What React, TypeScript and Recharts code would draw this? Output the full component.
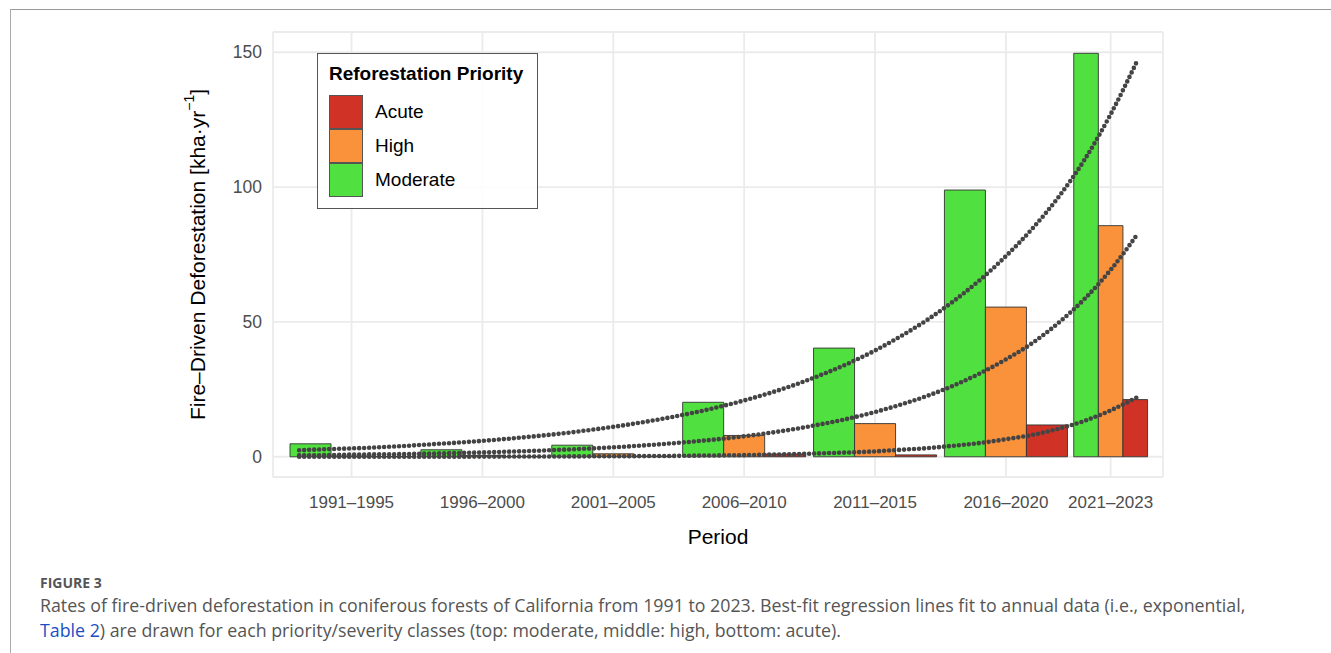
import { ComposedChart, Line, XAxis, YAxis, CartesianGrid, ReferenceArea } from 'recharts';

// Periods shown on the x axis (years, inclusive)
const periodLabels = ['1991–1995', '1996–2000', '2001–2005', '2006–2010', '2011–2015', '2016–2020', '2021–2023'];
const periodStart = [1991, 1996, 2001, 2006, 2011, 2016, 2021];
const periodEnd = [1995, 2000, 2005, 2010, 2015, 2020, 2023];

// Mean annual fire-driven deforestation per period [kha/yr]
const moderateBars = [4.8, 2.6, 4.3, 20.2, 40.3, 98.9, 149.6];
const highBars = [0.3, 0.5, 1.1, 7.9, 12.3, 55.5, 85.7];
const acuteBars = [0.1, 0.1, 0.2, 1.0, 0.7, 11.8, 21.2];

// Exponential best fit to the annual data, one value per year
const years = [
  1991, 1992, 1993, 1994, 1995, 1996, 1997, 1998, 1999, 2000, 2001,
  2002, 2003, 2004, 2005, 2006, 2007, 2008, 2009, 2010, 2011, 2012,
  2013, 2014, 2015, 2016, 2017, 2018, 2019, 2020, 2021, 2022, 2023,
];
const moderateFit = [
  2.4, 2.8, 3.1, 3.5, 4.0, 4.6, 5.2, 5.9, 6.7, 7.6, 8.6,
  9.8, 11.1, 12.6, 14.3, 16.2, 18.4, 20.9, 23.7, 26.9, 30.6, 34.7,
  39.4, 44.8, 50.8, 57.7, 65.5, 74.4, 84.5, 96.2, 110.1, 127.0, 146.5,
];
const highFit = [
  0.55, 0.6, 0.8, 0.9, 1.0, 1.2, 1.4, 1.6, 1.9, 2.2, 2.6,
  3.0, 3.5, 4.1, 4.8, 5.6, 6.5, 7.6, 8.9, 10.4, 12.2, 14.2,
  16.6, 19.4, 22.6, 26.4, 30.9, 36.1, 42.1, 49.6, 58.5, 69.3, 82.2,
];
const acuteFit = [
  0.01, 0.02, 0.02, 0.02, 0.03, 0.04, 0.05, 0.06, 0.08, 0.1, 0.12,
  0.16, 0.2, 0.25, 0.3, 0.4, 0.5, 0.6, 0.8, 1.0, 1.3, 1.6,
  2.0, 2.6, 3.2, 4.1, 5.1, 6.5, 8.1, 10.4, 13.3, 17.2, 22.0,
];

const yTicks = [0, 50, 100, 150];

const COLORS = { Acute: '#d03226', High: '#f9923b', Moderate: '#50e03f' };
const FIT_COLOR = '#444';
const FONT = '"Liberation Sans", Arial, Helvetica, sans-serif';
const CAPTION_FONT = '"Open Sans", "Noto Sans", sans-serif';

const chartData = years.map((year, i) => ({
  year,
  moderate: moderateFit[i],
  high: highFit[i],
  acute: acuteFit[i],
}));

const midYears = periodStart.map((s, i) => (s + periodEnd[i]) / 2);

// dodged bars: moderate, high, acute inside each period
const barSeries = [
  { name: 'Moderate', values: moderateBars },
  { name: 'High', values: highBars },
  { name: 'Acute', values: acuteBars },
];
const GROUP_FILL = 0.94;

const bars = barSeries.flatMap((s, j) =>
  s.values.map((v, i) => {
    const len = periodEnd[i] - periodStart[i] + 1;
    const w = (len * GROUP_FILL) / 3;
    const left = midYears[i] - 1.5 * w + j * w;
    return { key: `${s.name}-${i}`, x1: left, x2: left + w, y: v, fill: COLORS[s.name as keyof typeof COLORS] };
  })
);

function YTitle(props: any) {
  const vb = props.viewBox || { x: 213, y: 32, width: 60, height: 445 };
  const cx = vb.x - 16;
  const cy = vb.y + vb.height / 2;
  return (
    <text
      x={cx}
      y={cy}
      transform={`rotate(-90, ${cx}, ${cy})`}
      textAnchor="middle"
      dominantBaseline="central"
      fontSize={21}
      fontFamily={FONT}
      fill="#000"
    >
      Fire–Driven Deforestation [kha·yr
      <tspan dy={-8} fontSize={14}>−1</tspan>
      <tspan dy={8}>]</tspan>
    </text>
  );
}

const legendItems = ['Acute', 'High', 'Moderate'] as const;

export default function App() {
  return (
    <div
      style={{
        position: 'absolute',
        left: 0,
        top: 0,
        width: 1331,
        height: 653,
        background: '#fff',
        overflow: 'hidden',
      }}
    >
      {/* figure frame */}
      <div style={{ position: 'absolute', left: 10, top: 9, right: 0, height: 0, borderTop: '1.5px solid #999' }} />
      <div style={{ position: 'absolute', left: 10, top: 9, bottom: 0, width: 0, borderLeft: '1px solid #aaa' }} />

      <div style={{ position: 'absolute', left: 0, top: 0 }}>
        <ComposedChart
          width={1331}
          height={653}
          data={chartData}
          margin={{ top: 32, right: 168, bottom: 126, left: 213 }}
          style={{ fontFamily: FONT }}
        >
          <CartesianGrid stroke="#ebebeb" strokeWidth={1.8} />
          <XAxis
            dataKey="year"
            type="number"
            domain={[1990, 2024]}
            ticks={midYears}
            tickFormatter={(v: number) => periodLabels[midYears.indexOf(v)] ?? ''}
            axisLine={false}
            tickLine={false}
            tickMargin={13}
            height={50}
            interval={0}
            tick={{ fill: '#4d4d4d', fontSize: 17, fontFamily: FONT }}
            label={{ value: 'Period', position: 'bottom', offset: 2, fill: '#000', fontSize: 21, fontFamily: FONT }}
          />
          <YAxis
            type="number"
            domain={[-7.5, 157.5]}
            ticks={yTicks}
            axisLine={false}
            tickLine={false}
            tickMargin={5}
            width={60}
            tick={{ fill: '#4d4d4d', fontSize: 17.5, fontFamily: FONT }}
            label={{ content: (p: any) => <YTitle {...p} /> }}
          />
          {bars.map((b) => (
            <ReferenceArea
              key={b.key}
              x1={b.x1}
              x2={b.x2}
              y1={0}
              y2={b.y}
              fill={b.fill}
              fillOpacity={1}
              stroke="#333"
              strokeWidth={0.9}
              strokeOpacity={1}
            />
          ))}
          {(['moderate', 'high', 'acute'] as const).map((k) => (
            <Line
              key={k}
              type="monotone"
              dataKey={k}
              stroke={FIT_COLOR}
              strokeWidth={4.6}
              strokeLinecap="round"
              strokeDasharray="0 5"
              dot={false}
              activeDot={false}
              isAnimationActive={false}
            />
          ))}
        </ComposedChart>
      </div>

      {/* legend */}
      <div
        style={{
          position: 'absolute',
          left: 317,
          top: 53,
          width: 219,
          height: 154,
          border: '1.5px solid #555',
          background: 'rgba(255,255,255,0.88)',
          fontFamily: FONT,
          color: '#000',
        }}
      >
        <div style={{ position: 'absolute', left: 11, top: 9, fontSize: 19, fontWeight: 700, whiteSpace: 'nowrap' }}>
          Reforestation Priority
        </div>
        {legendItems.map((name, i) => (
          <div key={name} style={{ position: 'absolute', left: 11, top: 41 + i * 34, height: 34, display: 'flex', alignItems: 'center' }}>
            <div
              style={{
                width: 32,
                height: 32,
                background: COLORS[name],
                border: '1px solid #555',
              }}
            />
            <div style={{ marginLeft: 12, fontSize: 19 }}>{name}</div>
          </div>
        ))}
      </div>

      {/* caption */}
      <div
        style={{
          position: 'absolute',
          left: 40,
          top: 573,
          fontFamily: CAPTION_FONT,
          fontSize: 14,
          fontWeight: 700,
          color: '#555',
        }}
      >
        FIGURE 3
      </div>
      <div
        style={{
          position: 'absolute',
          left: 40,
          top: 593,
          width: 1280,
          fontFamily: CAPTION_FONT,
          fontSize: 17.8,
          lineHeight: '25px',
          color: '#555',
          whiteSpace: 'nowrap',
        }}
      >
        Rates of fire-driven deforestation in coniferous forests of California from 1991 to 2023. Best-fit regression lines fit to annual data (i.e., exponential,
        <br />
        <span style={{ color: '#1a4fc4' }}>Table 2</span>) are drawn for each priority/severity classes (top: moderate, middle: high, bottom: acute).
      </div>
    </div>
  );
}
